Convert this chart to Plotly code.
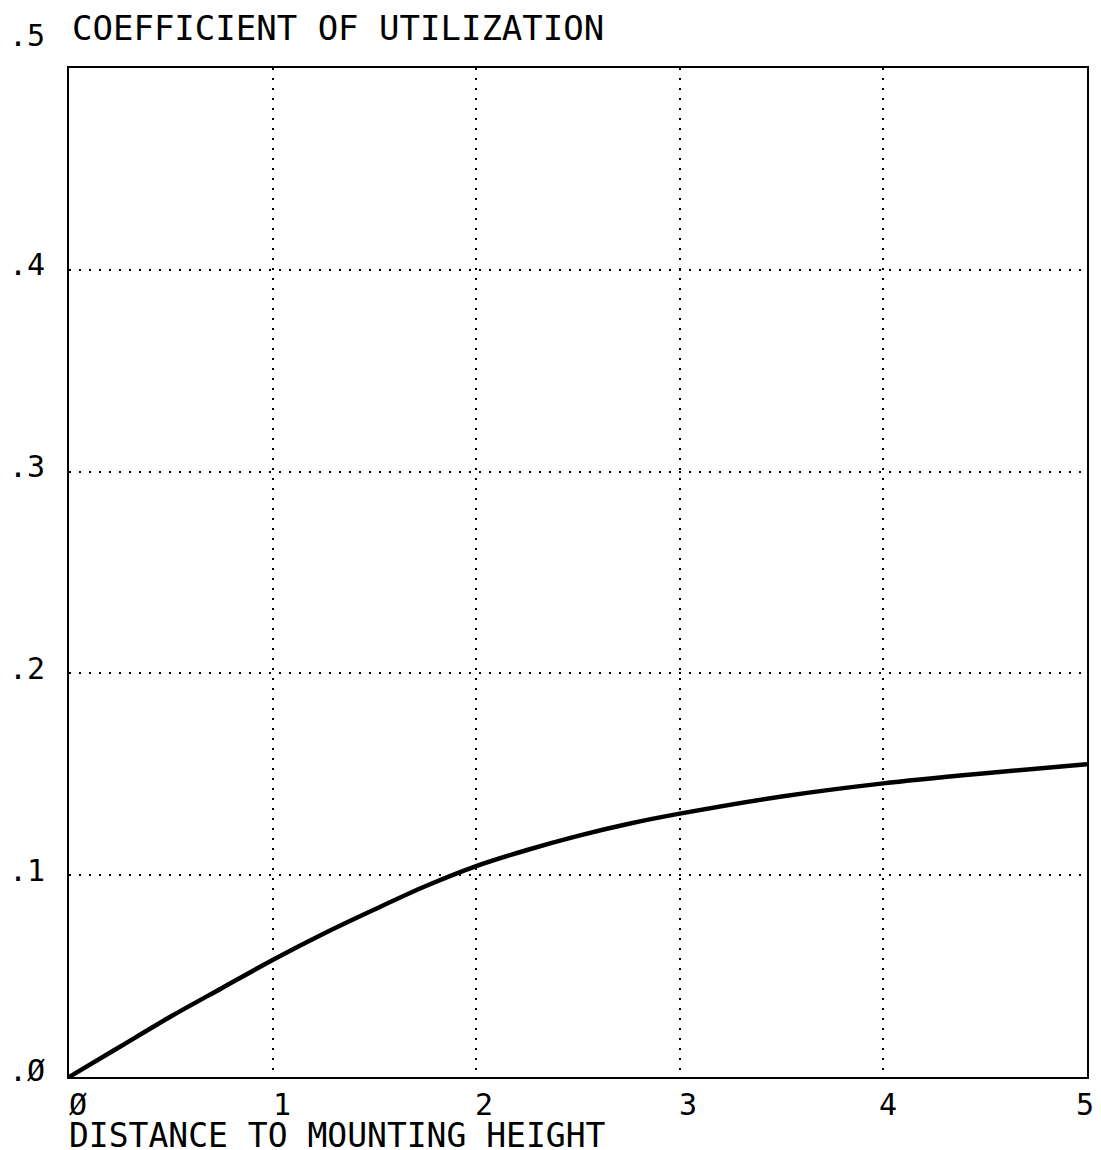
import plotly.graph_objects as go

# Data
distance = [0, 0.25, 0.5, 0.75, 1.0, 1.25, 1.5, 1.75, 2.0, 2.25, 2.5, 2.75, 3.0, 3.5, 4.0, 4.5, 5.0]
cu = [0, 0.015, 0.030, 0.044, 0.058, 0.071, 0.083, 0.0945, 0.1045, 0.1125, 0.1195, 0.1255, 0.1305, 0.139, 0.1455, 0.1505, 0.155]

x_ticks = [0, 1, 2, 3, 4, 5]
x_tick_text = ["Ø", "1", "2", "3", "4", "5"]
y_ticks = [0.0, 0.1, 0.2, 0.3, 0.4, 0.5]
y_tick_text = [".Ø", ".1", ".2", ".3", ".4", ".5"]

# label offsets (style only, in pixels)
x_label_shift = [9, 9, 8, 8, 5, -2]
y_label_shift = [7, 5, 5, 5, 5, 33]

FONT = "DejaVu Sans Mono"

fig = go.Figure()
fig.add_trace(go.Scatter(x=distance, y=cu, mode="lines",
                         line=dict(color="black", width=4.5, shape="spline", smoothing=0.8),
                         showlegend=False, hoverinfo="skip"))

fig.update_layout(
    width=1093, height=1142,
    margin=dict(l=61, r=14, t=60, b=73, autoexpand=False),
    paper_bgcolor="white", plot_bgcolor="white",
    font=dict(family=FONT, color="black", size=30),
    showlegend=False,
)
fig.update_xaxes(
    range=[0, 5], tickvals=x_ticks, automargin=False,
    showgrid=True, gridcolor="black", gridwidth=1.5, griddash="2px,8px",
    showline=True, linecolor="black", linewidth=2, mirror=True,
    ticks="", zeroline=False, showticklabels=False,
)
fig.update_yaxes(
    range=[0, 0.5], tickvals=y_ticks[1:5], automargin=False,
    showgrid=True, gridcolor="black", gridwidth=1.5, griddash="2px,8px",
    showline=True, linecolor="black", linewidth=2, mirror=True,
    ticks="", zeroline=False, showticklabels=False,
)

for v, t, s in zip(x_ticks, x_tick_text, x_label_shift):
    fig.add_annotation(x=v, xref="x", y=0, yref="y", text=t, showarrow=False,
                       xanchor="center", yanchor="middle", xshift=s, yshift=-27,
                       font=dict(family=FONT, size=30, color="black"))

for v, t, s in zip(y_ticks, y_tick_text, y_label_shift):
    fig.add_annotation(x=0, xref="paper", y=v, yref="y", text=t, showarrow=False,
                       xanchor="right", yanchor="middle", xshift=-22, yshift=s,
                       font=dict(family=FONT, size=30, color="black"))

fig.add_annotation(x=0, xref="paper", y=1.0396, yref="paper", text="COEFFICIENT OF UTILIZATION",
                   showarrow=False, xanchor="left", yanchor="middle", xshift=1,
                   font=dict(family=FONT, size=34, color="black"))
fig.add_annotation(x=0, xref="paper", y=-0.058, yref="paper", text="DISTANCE TO MOUNTING HEIGHT",
                   showarrow=False, xanchor="left", yanchor="middle", xshift=-2,
                   font=dict(family=FONT, size=33, color="black"))

fig.write_html("out.html")
